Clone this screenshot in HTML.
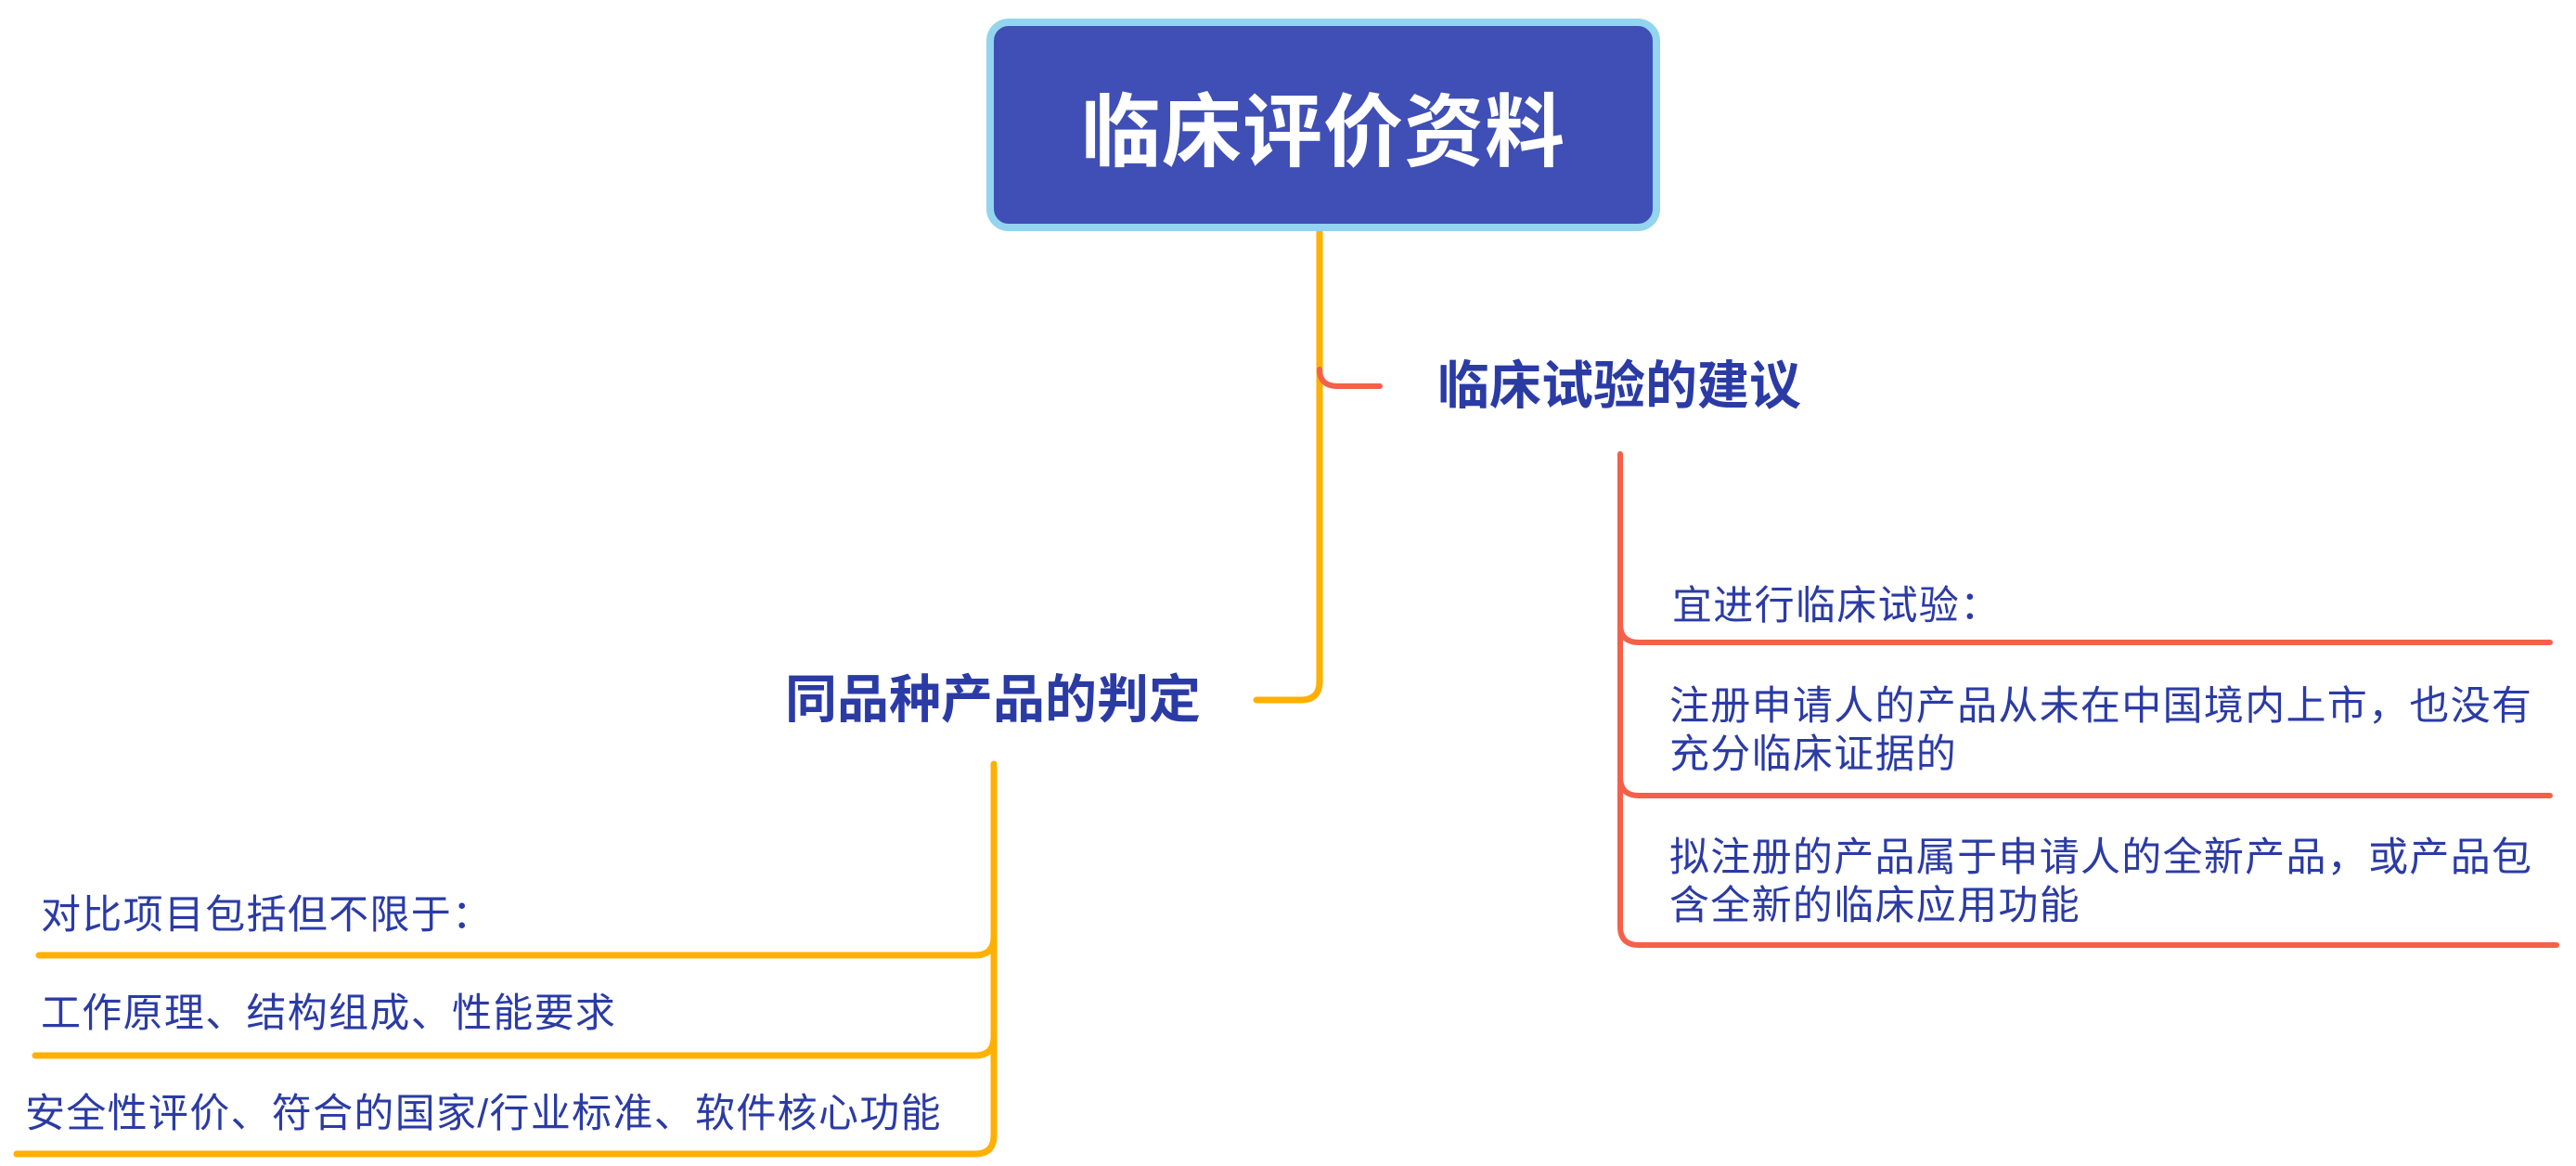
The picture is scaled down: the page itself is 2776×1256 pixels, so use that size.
<!DOCTYPE html>
<html><head><meta charset="utf-8"><style>
html,body{margin:0;padding:0;background:#fff;}
body{width:2776px;height:1256px;position:relative;overflow:hidden;font-family:"Liberation Sans","Noto Sans CJK SC",sans-serif;}
.root{position:absolute;left:1063px;top:20px;width:726px;height:229px;box-sizing:border-box;border:8px solid #93d4ef;border-radius:24px;background:#3f4fb5;color:#fff;font-weight:bold;font-size:86px;display:flex;align-items:center;justify-content:center;letter-spacing:1px;}
.t{position:absolute;color:#2b3ba5;white-space:nowrap;}
.b{font-weight:bold;font-size:56px;line-height:64px;}
.s{font-size:43px;line-height:52px;letter-spacing:1.3px;}
svg{position:absolute;left:0;top:0;}
</style></head><body>
<svg width="2776" height="1256" fill="none" stroke-linecap="round">
<g stroke="#ffb000" stroke-width="7">
<path d="M1422,248 L1422,734 Q1422,754 1402,754 L1354,754"/>
<path d="M1071,823 L1071,1223 Q1071,1243 1051,1243 L18,1243"/>
<path d="M1071,1009 Q1071,1029 1051,1029 L42,1029"/>
<path d="M1071,1117 Q1071,1137 1051,1137 L38,1137"/>
</g>
<g stroke="#f5604a" stroke-width="6">
<path d="M1422,398 Q1422,416 1442,416 L1487,416"/>
<path d="M1746,489 L1746,998 Q1746,1018 1766,1018 L2755,1018"/>
<path d="M1746,672 Q1746,692 1766,692 L2748,692"/>
<path d="M1746,837 Q1746,857 1766,857 L2748,857"/>
</g>
</svg>
<div class="root">临床评价资料</div>
<div class="t b" style="left:1549px;top:384px;">临床试验的建议</div>
<div class="t b" style="left:846px;top:722px;">同品种产品的判定</div>
<div class="t s" style="left:1802px;top:627px;">宜进行临床试验：</div>
<div class="t s" style="left:1799px;top:735px;">注册申请人的产品从未在中国境内上市，也没有<br>充分临床证据的</div>
<div class="t s" style="left:1799px;top:898px;">拟注册的产品属于申请人的全新产品，或产品包<br>含全新的临床应用功能</div>
<div class="t s" style="left:44px;top:960px;">对比项目包括但不限于：</div>
<div class="t s" style="left:44px;top:1066px;">工作原理、结构组成、性能要求</div>
<div class="t s" style="left:27px;top:1174px;">安全性评价、符合的国家/行业标准、软件核心功能</div>
</body></html>
